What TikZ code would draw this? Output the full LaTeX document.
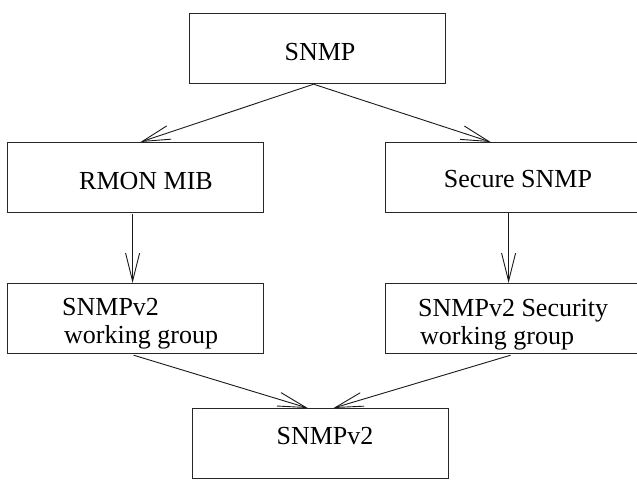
\documentclass[tikz,border=0pt]{standalone}
\usepackage{fontspec}
\setmainfont{Liberation Serif}
\usetikzlibrary{arrows.meta,calc}
\begin{document}
\begin{tikzpicture}[x=1pt,y=-1pt,
  box/.style={draw=black!85,line width=1.2pt,minimum width=256pt,minimum height=70pt,inner sep=0pt,anchor=north west},
  lbl/.style={font=\fontsize{26}{28}\selectfont,inner sep=0pt},
  link/.style={draw=black!90,line width=0.9pt,-{Straight Barb[length=28pt,width=14pt,line width=0.9pt]}}]
  \clip (0,0) rectangle (637,481);
  \useasboundingbox (0,0) rectangle (637,481);
  % boxes (top-left corners)
  \node[box] (snmp)   at (189,13)  {};
  \node[box] (rmon)   at (7,142)   {};
  \node[box] (secure) at (385,142) {};
  \node[box] (wg)     at (7,283)   {};
  \node[box] (secwg)  at (385,283) {};
  \node[box] (v2)     at (192,408) {};
  % labels
  \node[lbl,anchor=base] (tsnmp)   at (320,61)  {SNMP};
  \node[lbl,anchor=base] (trmon)   at (146,190) {RMON MIB};
  \node[lbl,anchor=base] (tsecure) at (518,188) {Secure SNMP};
  \node[lbl,anchor=base west] (twga)  at (62,315)  {SNMPv2};
  \node[lbl,anchor=base west] (twgb)  at (64,343)  {working group};
  \node[lbl,anchor=base west] (tseca) at (418,316) {SNMPv2 Security};
  \node[lbl,anchor=base west] (tsecb) at (420,344) {working group};
  \node[lbl,anchor=base] (tv2)     at (325,444) {SNMPv2};
  % connectors
  \draw[link] ($(snmp.south)+(-4,0)$) -- ($(rmon.north)+(5,0)$);
  \draw[link] ($(snmp.south)+(-4,0)$) -- ($(secure.north)+(-23,0)$);
  \draw[link] ($(rmon.south)+(-3,1)$) -- ($(wg.north)+(-3,0)$);
  \draw[link] ($(secure.south)+(-5,0)$) -- ($(secwg.north)+(-5,0)$);
  \draw[link] ($(wg.south)+(-2,1)$) -- ($(v2.north)+(-13,0)$);
  \draw[link] ($(secwg.south)+(-3,1)$) -- ($(v2.north)+(13,0)$);
\end{tikzpicture}
\end{document}
